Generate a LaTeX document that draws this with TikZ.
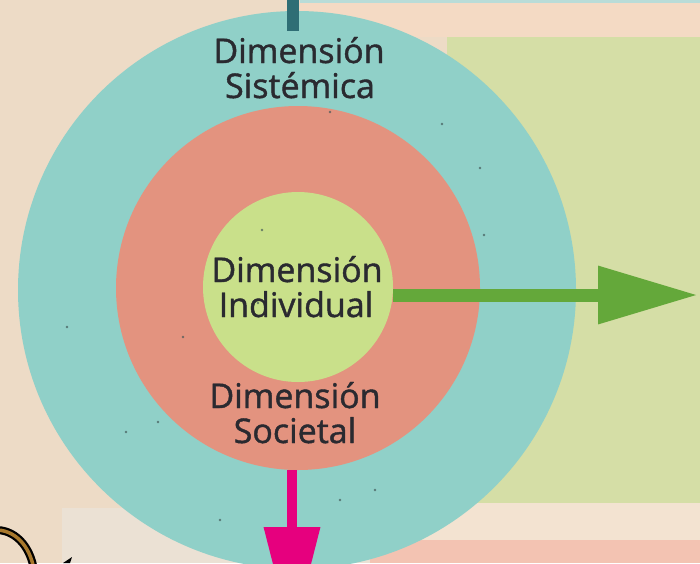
\documentclass[tikz,border=0pt]{standalone}
\usepackage{fontspec}
\setmainfont{Open Sans}
\newfontfamily\handfont[FakeBold=1.2]{Open Sans}
\usetikzlibrary{arrows.meta}
\definecolor{bgbeige}{HTML}{EDDBC6}
\definecolor{bglight}{HTML}{EBE1D4}
\definecolor{peach}{HTML}{F4DAC4}
\definecolor{paleblue}{HTML}{B9DCD8}
\definecolor{palegreen}{HTML}{D5DEA6}
\definecolor{cream}{HTML}{F3E3D1}
\definecolor{palepink}{HTML}{F3C3B2}
\definecolor{tealring}{HTML}{90D0C8}
\definecolor{salmonring}{HTML}{E3937F}
\definecolor{limering}{HTML}{C9E08A}
\definecolor{ink}{HTML}{2A2A30}
\definecolor{arrowgreen}{HTML}{64A83A}
\definecolor{arrowpink}{HTML}{E6007E}
\definecolor{stemteal}{HTML}{2F6E75}
\definecolor{speck}{HTML}{3F5555}
\definecolor{wood}{HTML}{A8782C}
\begin{document}
\begin{tikzpicture}[x=1pt,y=-1pt,
  ring/.style={circle, inner sep=0pt, draw=none},
  lbl/.style={anchor=base, font=\handfont\fontsize{34}{40}\selectfont, text=ink, inner sep=0pt},
  speckdot/.style={fill=speck, opacity=0.7}]
\useasboundingbox (0,0) rectangle (700,563);
\clip (0,0) rectangle (700,563);
% background
\fill[bgbeige] (0,0) rectangle (700,563);
\fill[bglight] (62,508) rectangle (420,563);
\fill[peach] (300,0) rectangle (700,37);
\fill[paleblue] (300,0) rectangle (700,3);
\fill[palegreen] (447,37) rectangle (700,503);
\fill[cream] (380,503) rectangle (700,540);
\fill[palepink] (370,540) rectangle (700,563);
% bottom-left drawing fragment
\draw[line width=8pt, black] (-6,530) .. controls (14,529) and (30,545) .. (34,570);
\draw[line width=3.5pt, wood] (-6,530) .. controls (14,529) and (30,545) .. (34,570);
\fill[black] (63,563) -- (72,557) -- (70,563) -- cycle;
% rings
\node[ring, fill=tealring, minimum size=558pt] (outer) at (297,290) {};
\node[ring, fill=salmonring, minimum size=364pt] (middle) at (298,288) {};
\node[ring, fill=limering, minimum size=190pt] (inner) at (298,287) {};
% specks
\foreach \p in {(484,235),(67,327),(158,422),(442,124),(183,337),(330,112),(262,230),(480,168),(126,432),(340,500),(220,520),(375,490),(258,303)}
  \fill[speckdot] \p circle (1.3);
% top stem
\coordinate (stemtop) at (293,0);
\coordinate (stemend) at (293,31);
\draw[stemteal, line width=12pt] (stemtop) -- (stemend);
% labels
\node[lbl] (s1) at (299,63) {Dimensión};
\node[lbl] (s2) at (300,98) {Sistémica};
\node[lbl] (i1) at (297,282) {Dimensión};
\node[lbl] (i2) at (296,317) {Individual};
\node[lbl] (c1) at (295,408) {Dimensión};
\node[lbl] (c2) at (295,443) {Societal};
% arrows
\coordinate (gtip) at (698,295);
\draw[arrowgreen, line width=13pt, -{Triangle[length=100pt,width=55pt]}] (inner.east |- gtip) -- (gtip);
\coordinate (ptip) at (292,640);
\draw[arrowpink, line width=10pt, -{Triangle[length=113pt,width=54pt]}] (ptip |- middle.south) -- (ptip);
\end{tikzpicture}
\end{document}
